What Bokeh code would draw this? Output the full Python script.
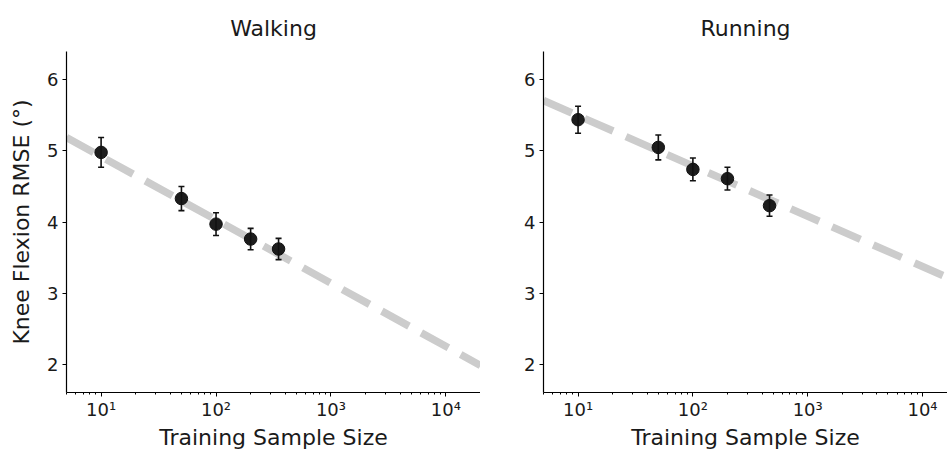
from bokeh.plotting import figure
from bokeh.layouts import row
from bokeh.models import ColumnDataSource, Range1d, FixedTicker
from bokeh.embed import file_html
from bokeh.resources import INLINE

# ---- data ----
walk_n = [10, 50, 100, 200, 350]
walk_rmse = [4.98, 4.33, 3.97, 3.76, 3.62]
walk_err = [0.21, 0.17, 0.16, 0.15, 0.15]
walk_fit_x = [5, 20000]
walk_fit_y = [5.19, 1.98]

run_n = [10, 50, 100, 200, 465]
run_rmse = [5.44, 5.05, 4.74, 4.61, 4.23]
run_err = [0.19, 0.175, 0.16, 0.16, 0.15]
run_fit_x = [5, 20000]
run_fit_y = [5.71, 3.16]

x_ticks = [10, 100, 1000, 10000]
x_tick_labels = ["10¹", "10²", "10³", "10⁴"]
y_ticks = [2, 3, 4, 5, 6]

FONT = "DejaVu Sans"
TXT = "#1a1a1a"

minor = [m * 10 ** e for e in range(0, 5) for m in range(2, 10)]
minor = [v for v in minor if 5 <= v <= 20000]


def make_panel(title, n, rmse, err, fit_x, fit_y, x_end, width, border_left, ylabel):
    p = figure(width=width, height=453, x_axis_type="log",
               x_range=Range1d(5, x_end), y_range=Range1d(1.6, 6.4),
               output_backend="svg", toolbar_location=None,
               min_border_left=border_left, min_border_right=0,
               min_border_top=51, min_border_bottom=61)
    p.outline_line_color = None
    p.grid.visible = False
    p.background_fill_color = "white"
    p.border_fill_color = "white"

    p.title.text = title
    p.title.align = "center"
    p.title.text_font = FONT
    p.title.text_font_size = "22px"
    p.title.text_font_style = "normal"
    p.title.text_color = TXT
    p.title.standoff = 22

    # fit line
    p.line(fit_x, fit_y, line_color="#cccccc", line_width=7.5,
           line_dash="31 14", line_cap="butt")

    src = ColumnDataSource(dict(
        x=n, y=rmse,
        lo=[r - e for r, e in zip(rmse, err)],
        hi=[r + e for r, e in zip(rmse, err)],
    ))
    p.segment(x0="x", y0="lo", x1="x", y1="hi", source=src,
              line_color="#111111", line_width=1.6)
    p.scatter(x="x", y="lo", source=src, marker="dash", size=6,
              line_color="#111111", line_width=1.6)
    p.scatter(x="x", y="hi", source=src, marker="dash", size=6,
              line_color="#111111", line_width=1.6)
    p.scatter(x="x", y="y", source=src, marker="circle", size=12.5,
              fill_color="#111111", line_color="#111111", fill_alpha=0.95)

    # axes
    xa = p.xaxis[0]
    xa.ticker = FixedTicker(ticks=x_ticks, minor_ticks=minor)
    xa.major_label_overrides = {t: l for t, l in zip(x_ticks, x_tick_labels)}
    xa.axis_label = "Training Sample Size"
    ya = p.yaxis[0]
    ya.ticker = FixedTicker(ticks=y_ticks, minor_ticks=[])
    if ylabel:
        ya.axis_label = "Knee Flexion RMSE (°)"
    for ax in (xa, ya):
        ax.axis_line_color = "black"
        ax.axis_line_width = 1.2
        ax.major_tick_line_color = "black"
        ax.minor_tick_line_color = "black"
        ax.major_tick_in = 0
        ax.major_tick_out = 4
        ax.minor_tick_in = 0
        ax.minor_tick_out = 2
        ax.major_label_text_font = FONT
        ax.major_label_text_font_size = "18px"
        ax.major_label_text_color = TXT
        ax.axis_label_text_font = FONT
        ax.axis_label_text_font_size = "22px"
        ax.axis_label_text_font_style = "normal"
        ax.axis_label_text_color = TXT
        ax.major_label_standoff = 2
        ax.axis_label_standoff = 2
    ya.major_label_standoff = 4
    ya.axis_label_standoff = 10
    return p


left = make_panel("Walking", walk_n, walk_rmse, walk_err, walk_fit_x, walk_fit_y,
                  20000, 480, 66, True)
right = make_panel("Running", run_n, run_rmse, run_err, run_fit_x, run_fit_y,
                   16500, 467, 63, False)

layout = row(left, right)
open("out.html", "w").write(file_html(layout, INLINE))
